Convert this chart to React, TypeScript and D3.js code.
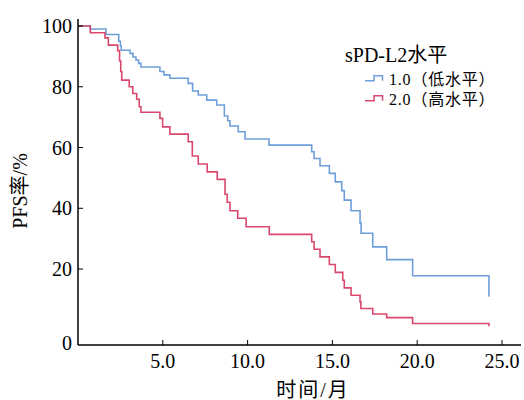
import React from "react";
import * as d3 from "d3";

// Kaplan–Meier step points: time (months) and PFS rate (%)
const lowTimes = [0, 0.71, 1.65, 2.4, 2.5, 2.55, 3.07, 3.24, 3.42, 3.57, 3.71, 4.83, 5.07, 5.42, 6.5, 6.76, 7.09, 7.59, 8.18, 8.63, 8.83, 8.96, 9.45, 9.85, 11.26, 13.78, 13.92, 14.27, 14.82, 15.17, 15.55, 15.7, 16.1, 16.63, 16.69, 17.38, 18.2, 19.73, 24.23];
const lowRates = [100, 99.0, 97.2, 95.0, 93.5, 92.0, 91.0, 89.8, 88.8, 87.7, 86.5, 85.0, 83.9, 82.8, 81.1, 78.6, 77.3, 75.6, 74.0, 70.4, 68.8, 67.1, 65.2, 62.8, 60.8, 58.6, 56.4, 54.0, 51.5, 48.7, 45.8, 42.7, 39.2, 35.2, 31.8, 27.3, 23.1, 17.8, 10.9];

const highTimes = [0, 0.73, 1.59, 1.79, 2.34, 2.45, 2.52, 2.58, 3.02, 3.23, 3.46, 3.61, 3.71, 4.83, 4.99, 5.42, 6.5, 6.74, 7.09, 7.62, 8.21, 8.67, 8.8, 8.96, 9.42, 9.91, 11.28, 13.78, 13.92, 14.27, 14.82, 15.17, 15.61, 15.7, 16.1, 16.63, 16.68, 17.38, 18.2, 19.73, 24.23];
const highRates = [100, 97.8, 96.1, 93.7, 91.9, 88.5, 85.0, 82.2, 80.0, 77.8, 75.9, 73.4, 71.6, 69.6, 66.8, 64.4, 61.9, 57.2, 54.6, 52.0, 49.5, 44.6, 42.0, 39.2, 36.7, 33.9, 31.4, 29.0, 26.5, 24.0, 21.5, 18.9, 16.3, 13.8, 11.4, 9.2, 7.0, 5.2, 4.0, 2.1, 1.2];

const xTicks = [5, 10, 15, 20, 25];
const xTickLabels = ["5.0", "10.0", "15.0", "20.0", "25.0"];
const yTicks = [20, 40, 60, 80, 100];
const yTickLabels = ["20", "40", "60", "80", "100"];

const seriesNames = ["1.0（低水平）", "2.0（高水平）"];
const seriesColors = ["#6f9fdb", "#d9486c"];
const legendTitle = "sPD-L2水平";
const xTitle = "时间/月";
const yTitle = "PFS率/%";

const FONT = "'Liberation Serif', 'Times New Roman', 'Noto Sans CJK SC', serif";

export default function App() {
  const W = 524, H = 400;
  const x = d3.scaleLinear().domain([0, 25]).range([78, 502]);
  const y = d3.scaleLinear().domain([-5, 100]).range([345, 26]);
  const line = d3
    .line<[number, number]>()
    .x((d) => x(d[0]))
    .y((d) => y(d[1]))
    .curve(d3.curveStepAfter);

  const series = [
    lowTimes.map((t, i) => [t, lowRates[i]] as [number, number]),
    highTimes.map((t, i) => [t, highRates[i]] as [number, number]),
  ];

  const axisBottom = y(-5);
  const legendX = 365;
  const legendRows = [80.7, 100.7];

  return (
    <svg
      width={W}
      height={H}
      style={{ position: "absolute", left: 0, top: 0, background: "#fff" }}
      fontFamily={FONT}
    >
      <rect width={W} height={H} fill="#fff" />
      {/* curves */}
      {series.map((s, i) => (
        <path key={i} d={line(s) || ""} fill="none" stroke={seriesColors[i]} strokeWidth={1.6} />
      ))}
      {/* axes */}
      <line x1={78} x2={78} y1={19} y2={axisBottom} stroke="#000" strokeWidth={1.5} />
      <line x1={78} x2={521} y1={axisBottom} y2={axisBottom} stroke="#000" strokeWidth={1.5} />
      {yTicks.map((v, i) => (
        <g key={v}>
          <line x1={78} x2={83} y1={y(v)} y2={y(v)} stroke="#000" strokeWidth={1} />
          <text x={72} y={y(v)} dy="0.35em" textAnchor="end" fontSize={20} fill="#000">
            {yTickLabels[i]}
          </text>
        </g>
      ))}
      <text x={72} y={axisBottom - 2} dy="0.35em" textAnchor="end" fontSize={20} fill="#000">
        0
      </text>
      {xTicks.map((v, i) => (
        <g key={v}>
          <line x1={x(v)} x2={x(v)} y1={axisBottom} y2={axisBottom - 5} stroke="#000" strokeWidth={1} />
          <text x={x(v)} y={368} textAnchor="middle" fontSize={20} fill="#000">
            {xTickLabels[i]}
          </text>
        </g>
      ))}
      <text x={313} y={397} textAnchor="middle" fontSize={20} letterSpacing={2} fill="#000">
        {xTitle}
      </text>
      <text
        transform="translate(27,191) rotate(-90)"
        textAnchor="middle"
        fontSize={20}
        fill="#000"
      >
        {yTitle}
      </text>
      {/* legend */}
      <text x={345} y={62} fontSize={20} fill="#000">
        {legendTitle}
      </text>
      {seriesNames.map((name, i) => {
        const ly = legendRows[i];
        const c = seriesColors[i];
        const d = `M${legendX},${ly} L${legendX + 9},${ly} L${legendX + 9},${ly - 5} L${legendX + 17.5},${ly - 5} L${legendX + 17.5},${ly}`;
        return (
          <g key={name}>
            <path d={d} fill="none" stroke={c} strokeWidth={1.5} />
            <text x={389} y={ly + 4.5} fontSize={16} letterSpacing={0.8} fill="#000">
              {name}
            </text>
          </g>
        );
      })}
    </svg>
  );
}
